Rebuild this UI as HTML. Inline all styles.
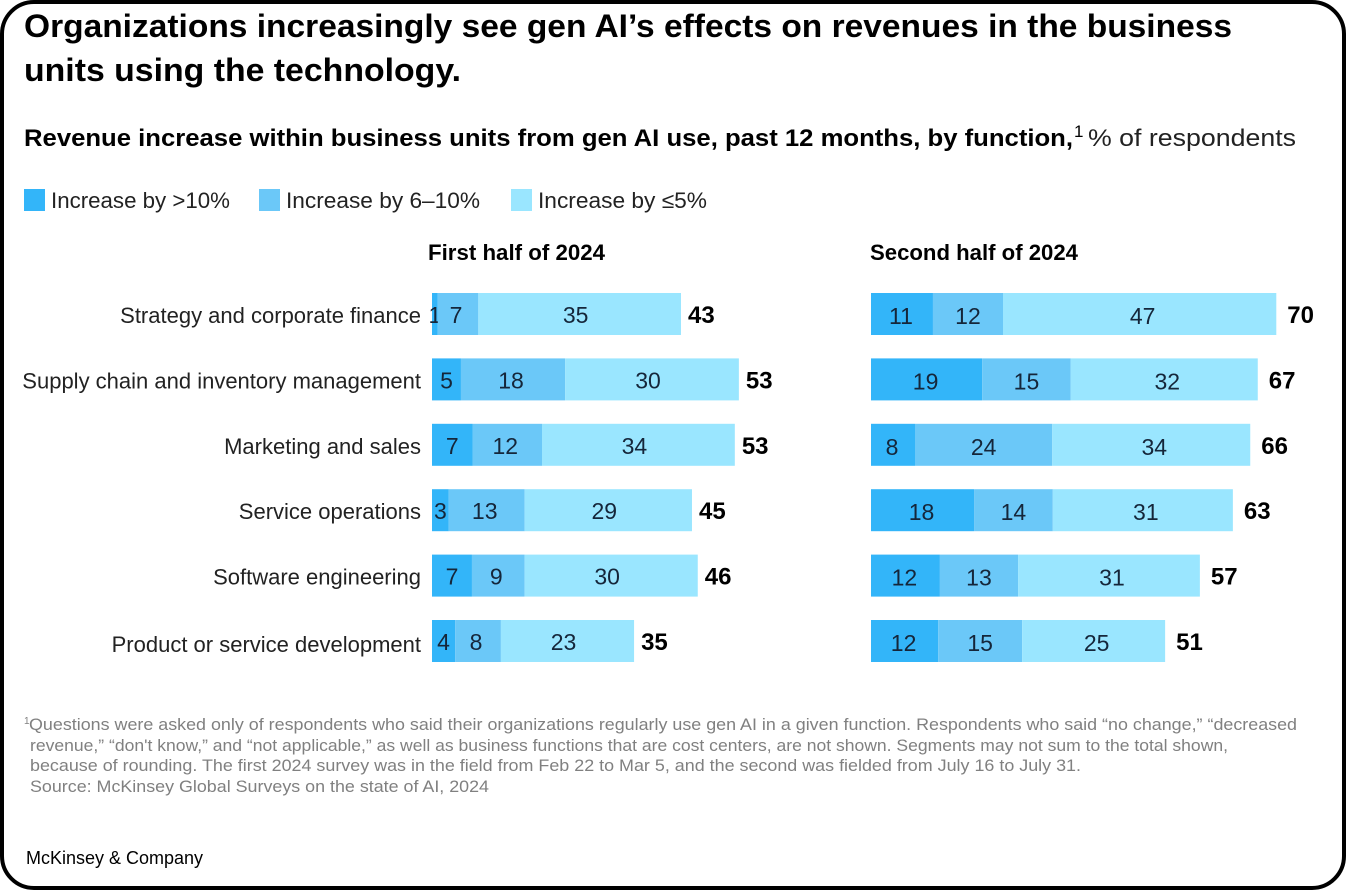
<!DOCTYPE html>
<html lang="en">
<head>
<meta charset="utf-8">
<title>Gen AI revenue effects</title>
<style>
html,body{margin:0;padding:0;background:#fff;}
body{width:1346px;height:890px;overflow:hidden;}
svg{display:block;font-family:"Liberation Sans",sans-serif;}
</style>
</head>
<body>
<svg id="chart" width="1346" height="890" viewBox="0 0 1346 890" xmlns="http://www.w3.org/2000/svg">
  <rect x="0" y="0" width="1346" height="890" fill="#fff"/>
  <rect x="2" y="2" width="1342" height="886" rx="32" ry="32" fill="none" stroke="#000" stroke-width="4"/>

  <text x="24" y="37" font-size="32" font-weight="700" fill="#000" textLength="1208" lengthAdjust="spacingAndGlyphs">Organizations increasingly see gen AI’s effects on revenues in the business</text>
  <text x="24" y="81" font-size="32" font-weight="700" fill="#000" textLength="437" lengthAdjust="spacingAndGlyphs">units using the technology.</text>

  <text x="24" y="146" font-size="24" font-weight="700" fill="#000" textLength="1049" lengthAdjust="spacingAndGlyphs">Revenue increase within business units from gen AI use, past 12 months, by function,</text>
  <text x="1074" y="137" font-size="17" fill="#000">1</text>
  <text x="1088" y="146" font-size="24" fill="#222" textLength="208" lengthAdjust="spacingAndGlyphs">% of respondents</text>

  <g>
    <rect x="24" y="189" width="21" height="22" fill="#33b5f9"/>
    <text x="51" y="208" font-size="22" fill="#222" textLength="179" lengthAdjust="spacingAndGlyphs">Increase by &gt;10%</text>
    <rect x="259" y="189" width="21" height="22" fill="#6bc8f8"/>
    <text x="286" y="208" font-size="22" fill="#222" textLength="194" lengthAdjust="spacingAndGlyphs">Increase by 6–10%</text>
    <rect x="511" y="189" width="21" height="22" fill="#9ae6ff"/>
    <text x="538" y="208" font-size="22" fill="#222" textLength="169" lengthAdjust="spacingAndGlyphs">Increase by ≤5%</text>
  </g>

  <text x="428" y="260" font-size="22" font-weight="700" fill="#000" textLength="177" lengthAdjust="spacingAndGlyphs">First half of 2024</text>
  <text x="870" y="260" font-size="22" font-weight="700" fill="#000" textLength="208" lengthAdjust="spacingAndGlyphs">Second half of 2024</text>

  <g id="plot"></g>

  <g font-size="17" fill="#808080">
    <text x="24" y="724" font-size="10">1</text>
    <text x="29" y="730" textLength="1268" lengthAdjust="spacingAndGlyphs">Questions were asked only of respondents who said their organizations regularly use gen AI in a given function. Respondents who said “no change,” “decreased</text>
    <text x="30" y="751" textLength="1198" lengthAdjust="spacingAndGlyphs">revenue,” “don't know,” and “not applicable,” as well as business functions that are cost centers, are not shown. Segments may not sum to the total shown,</text>
    <text x="30" y="771" textLength="1051" lengthAdjust="spacingAndGlyphs">because of rounding. The first 2024 survey was in the field from Feb 22 to Mar 5, and the second was fielded from July 16 to July 31.</text>
    <text x="30" y="792" textLength="459" lengthAdjust="spacingAndGlyphs">Source: McKinsey Global Surveys on the state of AI, 2024</text>
  </g>

  <text x="26" y="864" font-size="18" fill="#000" textLength="177" lengthAdjust="spacingAndGlyphs">McKinsey &amp; Company</text>
</svg>
<script>
const categories = ["Strategy and corporate finance", "Supply chain and inventory management", "Marketing and sales", "Service operations", "Software engineering", "Product or service development"];

// Segment sizes as drawn in the picture (% of respondents)
const firstOver10 = [1, 5, 7, 2.9, 6.9, 4];
const first6to10 = [7, 18, 12, 13.1, 9.1, 7.9];
const firstUpTo5 = [35, 30, 33.3, 28.9, 29.9, 23];
const secondOver10 = [10.7, 19.2, 7.6, 17.8, 11.9, 11.6];
const second6to10 = [12.1, 15.3, 23.7, 13.6, 13.5, 14.5];
const secondUpTo5 = [47.2, 32.3, 34.2, 31.1, 31.4, 24.7];

// Printed labels
const firstOver10Labels = [1, 5, 7, 3, 7, 4];
const first6to10Labels = [7, 18, 12, 13, 9, 8];
const firstUpTo5Labels = [35, 30, 34, 29, 30, 23];
const firstTotals = [43, 53, 53, 45, 46, 35];
const secondOver10Labels = [11, 19, 8, 18, 12, 12];
const second6to10Labels = [12, 15, 24, 14, 13, 15];
const secondUpTo5Labels = [47, 32, 34, 31, 31, 25];
const secondTotals = [70, 67, 66, 63, 57, 51];

const SVG_NS = "http://www.w3.org/2000/svg";
const plot = document.getElementById("plot");
const colors = ["#33b5f9", "#6bc8f8", "#9ae6ff"];
const UNIT = 5.79;
const ROW_TOP = 293;
const ROW_STEP = 65.4;
const BAR_HEIGHT = 42;

function xScale(origin, value) { return origin + value * UNIT; }
function yScale(index) { return ROW_TOP + index * ROW_STEP; }

function addText(name, x, y, content, anchor, size, weight, fill) {
  const el = document.createElementNS(SVG_NS, "text");
  el.setAttribute("x", x);
  el.setAttribute("y", y);
  el.setAttribute("text-anchor", anchor);
  el.setAttribute("font-size", size);
  el.setAttribute("font-weight", weight);
  el.setAttribute("fill", fill);
  
  
  el.textContent = content;
  plot.appendChild(el);
  return el;
}

function drawPanel(key, origin, series, labels, totals, gap, labelDy, labelBias) {
  categories.forEach(function (category, row) {
    const y = yScale(row);
    let acc = 0;
    series.forEach(function (values, s) {
      const x0 = xScale(origin, acc);
      const x1 = xScale(origin, acc + values[row]);
      const rect = document.createElementNS(SVG_NS, "rect");
      rect.setAttribute("x", x0);
      rect.setAttribute("y", y);
      rect.setAttribute("width", x1 - x0);
      rect.setAttribute("height", BAR_HEIGHT);
      rect.setAttribute("fill", colors[s]);
      
      
      plot.appendChild(rect);
      addText(key + "-segment-value", (x0 + x1) / 2 + labelBias[s], y + 30 + labelDy, labels[s][row], "middle", 23, 400, "#15263a");
      acc += values[row];
    });
    addText(key + "-total-value", xScale(origin, acc) + gap, y + 30, totals[row], "start", 24, 700, "#000");
  });
}

categories.forEach(function (category, row) {
  const lastRowDrop = row === categories.length - 1 ? 2 : 0;
  addText("category-label", 421, yScale(row) + 30 + lastRowDrop, category, "end", 22, 400, "#222");
});

drawPanel("first-half", 432,
  [firstOver10, first6to10, firstUpTo5],
  [firstOver10Labels, first6to10Labels, firstUpTo5Labels],
  firstTotals, 7, 0, [0, -2, -4]);
drawPanel("second-half", 871,
  [secondOver10, second6to10, secondUpTo5],
  [secondOver10Labels, second6to10Labels, secondUpTo5Labels],
  secondTotals, 11, 1, [-1, 0, 3]);
</script>
</body>
</html>
